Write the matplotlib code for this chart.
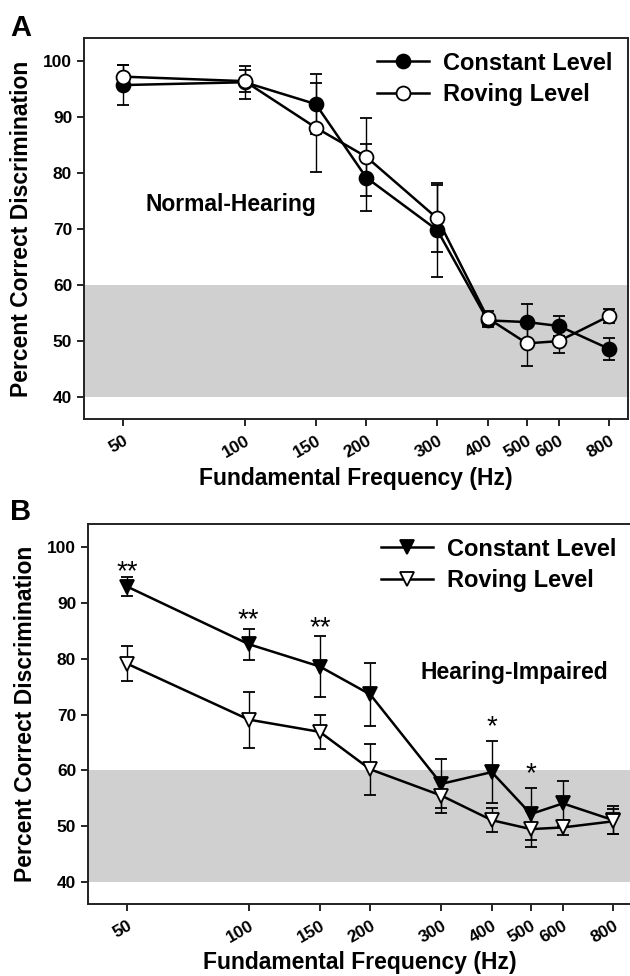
import matplotlib
matplotlib.use("Agg")
import matplotlib.pyplot as plt
from matplotlib.lines import Line2D
from matplotlib.ticker import NullLocator, FixedLocator, FixedFormatter

plt.rcParams['font.family'] = ['Liberation Sans', 'DejaVu Sans']
plt.rcParams['font.weight'] = 'bold'

freqs = [50, 100, 150, 200, 300, 400, 500, 600, 800]
tick_labels = ["50", "100", "150", "200", "300", "400", "500", "600", "800"]

# panel A - normal hearing
nh_const = [95.7, 96.2, 92.3, 79.2, 69.8, 53.7, 53.4, 52.7, 48.6]
nh_const_err = [3.5, 2.9, 5.3, 6.0, 8.4, 1.2, 3.2, 1.8, 2.0]
nh_rove = [97.2, 96.4, 88.1, 82.9, 71.9, 54.1, 49.6, 50.0, 54.5]
nh_rove_err = [2.0, 1.9, 8.0, 7.0, 6.0, 1.3, 4.1, 2.1, 1.2]

# panel B - hearing impaired
hi_const = [92.9, 82.6, 78.6, 73.6, 57.6, 59.7, 52.2, 54.1, 51.1]
hi_const_err = [1.7, 2.8, 5.5, 5.7, 4.4, 5.6, 4.6, 4.0, 2.5]
hi_rove = [79.1, 69.1, 66.9, 60.2, 55.5, 51.1, 49.5, 49.8, 50.9]
hi_rove_err = [3.1, 5.0, 3.0, 4.6, 3.2, 2.1, 3.2, 1.3, 2.2]

# significance stars
star_freqs = [50, 100, 150, 400, 500]
star_vals = [95.4, 86.8, 85.4, 67.8, 59.4]
star_text = ["**", "**", "**", "*", "*"]

W, H = 630, 976
fig = plt.figure(figsize=(W / 100, H / 100), dpi=100)

def px_axes(left, top, right, bottom):
    return fig.add_axes([left / W, 1 - bottom / H, (right - left) / W, (bottom - top) / H])

axA = px_axes(84, 38, 628, 419)
axB = px_axes(88, 524, 632, 904)

def style(ax, xlab_y):
    ax.axhspan(40, 60, color="#d0d0d0", zorder=0, lw=0)
    ax.set_xscale("log")
    ax.set_xlim(40, 890)
    ax.set_ylim(36.1, 104.1)
    ax.xaxis.set_major_locator(FixedLocator(freqs))
    ax.xaxis.set_major_formatter(FixedFormatter(tick_labels))
    ax.xaxis.set_minor_locator(NullLocator())
    ax.set_yticks([40, 50, 60, 70, 80, 90, 100])
    ax.tick_params(axis="both", direction="out", length=5, width=1.2, labelsize=12.5,
                   top=False, right=False)
    ax.tick_params(axis="x", pad=5)
    for lab in ax.get_xticklabels():
        lab.set_rotation(30)
        lab.set_ha("right")
        lab.set_rotation_mode("anchor")
    for s in ax.spines.values():
        s.set_linewidth(1.4)
        s.set_color("#222222")
    ax.set_xlabel("Fundamental Frequency (Hz)", fontsize=16.5, fontweight="bold")
    ax.xaxis.set_label_coords(0.5, xlab_y)
    ax.xaxis.label.set_va("center")
    ax.set_ylabel("Percent Correct Discrimination", fontsize=16.5, fontweight="bold", labelpad=7)

def series(ax, y, err, marker, fc, ms):
    ax.errorbar(freqs, y, yerr=err, color="black", lw=1.8, elinewidth=1.0, capsize=4,
                capthick=1.0, marker=marker, ms=ms, mfc=fc, mec="black", mew=1.3, zorder=3)

def legend(ax, marker):
    handles = [Line2D([], [], color="black", lw=1.8, marker=marker, ms=10, mfc=fc,
                      mec="black", mew=1.3) for fc in ("black", "white")]
    ax.legend(handles, ["Constant Level", "Roving Level"], loc="upper right",
              bbox_to_anchor=(1.01, 1.02), frameon=False, handlelength=2.2,
              handletextpad=0.6, labelspacing=0.35, prop={"weight": "bold", "size": 17})

style(axA, -0.157)
series(axA, nh_const, nh_const_err, "o", "black", 10)
series(axA, nh_rove, nh_rove_err, "o", "white", 10)
axA.text(0.27, 0.564, "Normal-Hearing", transform=axA.transAxes, fontsize=16.5,
         fontweight="bold", ha="center", va="center")
legend(axA, "o")

style(axB, -0.155)
series(axB, hi_const, hi_const_err, "v", "black", 10)
series(axB, hi_rove, hi_rove_err, "v", "white", 10)
for f, v, t in zip(star_freqs, star_vals, star_text):
    axB.text(f, v, t, fontsize=20, ha="center", va="center", fontweight="normal")
axB.text(0.783, 0.608, "Hearing-Impaired", transform=axB.transAxes, fontsize=16.5,
         fontweight="bold", ha="center", va="center")
legend(axB, "v")

fig.text(10 / W, 1 - 28 / H, "A", fontsize=21, fontweight="bold", ha="left", va="center")
fig.text(10 / W, 1 - 512 / H, "B", fontsize=21, fontweight="bold", ha="left", va="center")

fig.savefig("out.png", dpi=100)
